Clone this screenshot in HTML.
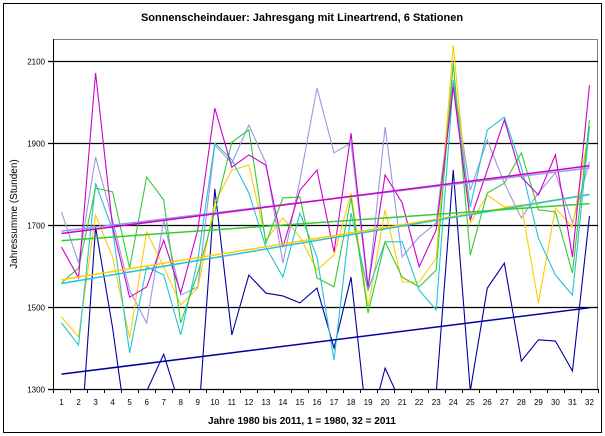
<!DOCTYPE html>
<html><head><meta charset="utf-8"><style>
html,body{margin:0;padding:0;background:#fff;width:605px;height:436px;overflow:hidden}
svg{display:block;position:absolute;left:0;top:0;font-family:"Liberation Sans",Arial,sans-serif}
</style></head><body>
<svg id="chart" width="605" height="436">
<rect x="3.5" y="3.5" width="598" height="429" fill="#fff" stroke="#000"/>
<text x="302" y="21" text-anchor="middle" font-size="11" font-weight="bold">Sonnenscheindauer: Jahresgang mit Lineartrend, 6 Stationen</text>
<text x="302" y="424" text-anchor="middle" font-size="10" font-weight="bold">Jahre 1980 bis 2011, 1 = 1980, 32 = 2011</text>
<text transform="translate(17,214) rotate(-90)" text-anchor="middle" font-size="10">Jahressumme (Stunden)</text>
<g id="grid"></g><g id="series"></g><g id="axes"></g>
</svg>
<script>
const categories=[1,2,3,4,5,6,7,8,9,10,11,12,13,14,15,16,17,18,19,20,21,22,23,24,25,26,27,28,29,30,31,32];
const yTicks=[1300,1500,1700,1900,2100];
const magenta=[1646,1571,2071,1695,1524,1549,1663,1534,1688,1985,1841,1871,1846,1646,1785,1834,1634,1924,1549,1822,1754,1598,1688,2037,1712,1834,1956,1817,1773,1871,1622,2041];
const lavender=[1732,1607,1866,1712,1541,1461,1712,1529,1549,1895,1851,1944,1851,1607,1810,2034,1876,1900,1541,1939,1622,1671,1705,2054,1785,1907,1802,1717,1778,1827,1705,1854];
const green=[1559,1595,1790,1781,1595,1817,1761,1461,1583,1732,1902,1932,1656,1766,1768,1571,1549,1766,1485,1659,1573,1549,1590,2095,1627,1778,1802,1876,1737,1732,1583,1956];
const yellow=[1476,1427,1724,1622,1424,1683,1598,1505,1546,1754,1834,1846,1663,1717,1671,1590,1627,1778,1500,1737,1561,1561,1619,2139,1705,1773,1744,1749,1510,1741,1695,1939];
const cyan=[1461,1407,1802,1688,1388,1598,1578,1432,1615,1900,1859,1778,1646,1573,1729,1622,1371,1729,1541,1659,1659,1541,1493,2046,1744,1932,1963,1841,1668,1578,1529,1939];
const navy=[1100,1090,1695,1449,1150,1295,1385,1251,1200,1788,1432,1578,1534,1527,1510,1546,1400,1573,1190,1351,1260,1200,1290,1834,1295,1546,1607,1368,1420,1417,1344,1722];
const seriesList=[["navy",navy,"#0000a0"],["lavender",lavender,"#9999e6"],["yellow",yellow,"#ffcc00"],["cyan",cyan,"#22c4d4"],["green",green,"#33cc33"],["magenta",magenta,"#cc00cc"]];
const L=53,R=598,T=39,B=389;
const NS="http://www.w3.org/2000/svg";
const step=(R-L)/categories.length;
function xPos(c){return L+step*(c-0.5);}
function yPos(v){return 389-(v-1300)*82/200;}
function mk(tag,attrs,parent){const e=document.createElementNS(NS,tag);for(const k in attrs)e.setAttribute(k,attrs[k]);parent.appendChild(e);return e;}
const grid=document.getElementById('grid'),axes=document.getElementById('axes'),sg=document.getElementById('series');
const pa=mk('rect',{x:L+.5,y:T+.5,width:R-L-1,height:B-T,fill:'none',stroke:'#808080'},grid);


yTicks.forEach(t=>{
  const y=Math.round(yPos(t))+.5;
  const g=mk('line',{x1:L-5,x2:R,y1:y,y2:y,stroke:'#000','stroke-width':1.2},grid);
  
  
  const tx=mk('text',{x:L-8,y:y+3,'text-anchor':'end','font-size':'8'},axes);
  tx.textContent=t;
  
  
});
mk('line',{x1:L+.5,x2:L+.5,y1:T,y2:B,stroke:'#000'},axes);
for(let i=0;i<=categories.length;i++){
  const x=Math.round(L+step*i)+.5;
  mk('line',{x1:x,x2:x,y1:B,y2:B+4,stroke:'#000'},axes);
}
categories.forEach(c=>{
  const tx=mk('text',{x:xPos(c),y:B+16,'text-anchor':'middle','font-size':'8'},axes);
  tx.textContent=c;
  
  
});
function clipSeg(x1,y1,x2,y2){
  let t0=0,t1=1;const dy=y2-y1;
  if(dy===0){if(y1<T||y1>B)return null;}
  else{
    let ta=(T-y1)/dy,tb=(B-y1)/dy;if(ta>tb){const s=ta;ta=tb;tb=s;}
    t0=Math.max(t0,ta);t1=Math.min(t1,tb);if(t0>=t1)return null;
  }
  const dx=x2-x1;
  return [x1+dx*t0,y1+dy*t0,x1+dx*t1,y1+dy*t1];
}
function clippedPath(xs,ys){
  let d='',lx=null,ly=null;
  for(let i=0;i<xs.length-1;i++){
    const s=clipSeg(xs[i],ys[i],xs[i+1],ys[i+1]);if(!s)continue;
    if(lx===null||Math.abs(lx-s[0])>0.01||Math.abs(ly-s[1])>0.01)d+='M'+s[0].toFixed(2)+','+s[1].toFixed(2);
    d+='L'+s[2].toFixed(2)+','+s[3].toFixed(2);lx=s[2];ly=s[3];
  }
  return d;
}
function trend(vals){const n=vals.length;let sx=0,sy=0,sxx=0,sxy=0;categories.forEach((c,i)=>{sx+=c;sy+=vals[i];sxx+=c*c;sxy+=c*vals[i];});const b=(n*sxy-sx*sy)/(n*sxx-sx*sx);const a=(sy-b*sx)/n;return [a,b];}
seriesList.forEach(([name,vals,col])=>{
  const xs=categories.map(c=>xPos(c)),ys=vals.map(v=>yPos(v));
  const pl=mk('path',{d:clippedPath(xs,ys),fill:'none',stroke:col,'stroke-width':1.1},sg);
  
  
});
seriesList.forEach(([name,vals,col])=>{
  const [a,b]=trend(vals);
  const c0=categories[0],c1=categories[categories.length-1];
  const tl=mk('line',{x1:xPos(c0),y1:yPos(a+b*c0),x2:xPos(c1),y2:yPos(a+b*c1),stroke:col,'stroke-width':1.5},sg);
  
  
});
</script>
</body></html>
